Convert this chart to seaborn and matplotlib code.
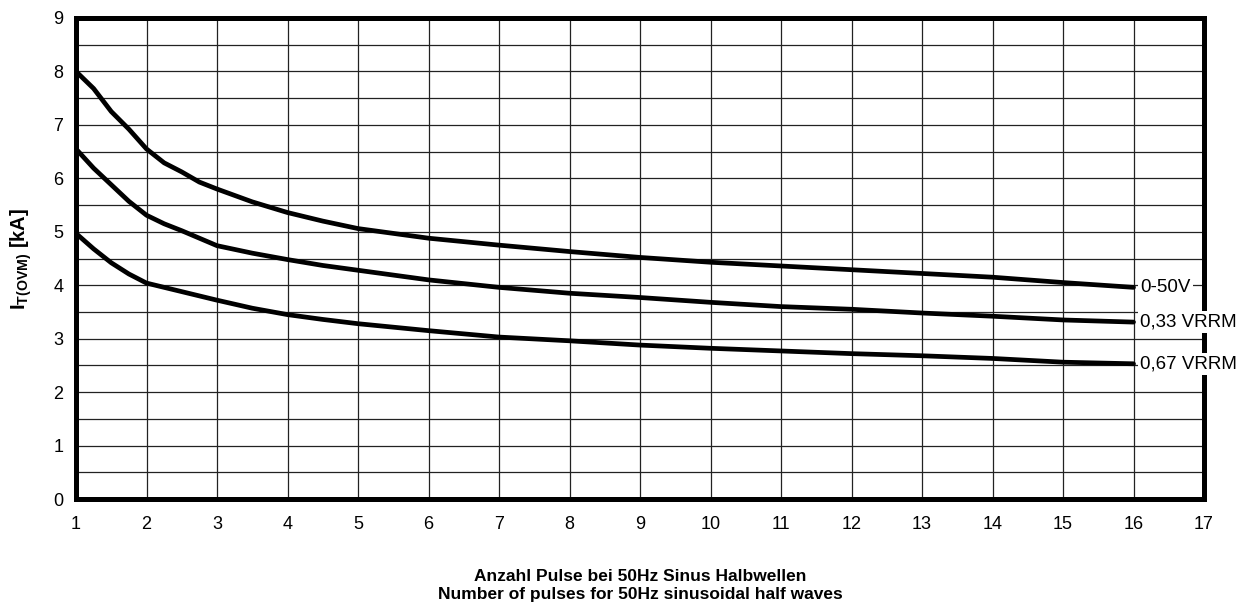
import numpy as np
import pandas as pd
import matplotlib
matplotlib.use("Agg")
import matplotlib.pyplot as plt
import seaborn as sns

# ---- data ----
pulses = [1, 1.25, 1.5, 1.75, 2, 2.25, 2.5, 2.75, 3, 3.5, 4, 4.5, 5, 6, 7, 8, 9, 10, 11, 12, 13, 14, 15, 16]
i_0_50v = [8.0, 7.68, 7.25, 6.92, 6.55, 6.29, 6.12, 5.93, 5.80, 5.56, 5.36, 5.20, 5.06, 4.88, 4.75,
           4.63, 4.52, 4.43, 4.36, 4.29, 4.22, 4.15, 4.05, 3.96]
i_033 = [6.55, 6.19, 5.88, 5.57, 5.31, 5.15, 5.02, 4.88, 4.74, 4.60, 4.48, 4.37, 4.28, 4.10, 3.96,
         3.85, 3.77, 3.68, 3.60, 3.55, 3.48, 3.42, 3.35, 3.31]
i_067 = [4.97, 4.68, 4.42, 4.21, 4.04, 3.96, 3.88, 3.80, 3.72, 3.57, 3.45, 3.36, 3.28, 3.15, 3.03,
         2.96, 2.88, 2.82, 2.77, 2.72, 2.68, 2.63, 2.56, 2.53]
series_names = ["0-50V", "0,33 VRRM", "0,67 VRRM"]
x_ticks = list(range(1, 18))
y_ticks = list(range(0, 10))

df = pd.concat([
    pd.DataFrame({"x": pulses, "y": vals, "s": name})
    for name, vals in zip(series_names, [i_0_50v, i_033, i_067])
], ignore_index=True)

sns.set_style("white")
plt.rcParams["font.family"] = ["Liberation Sans", "DejaVu Sans"]
plt.rcParams["mathtext.fontset"] = "custom"
plt.rcParams["mathtext.rm"] = "Liberation Sans"
plt.rcParams["mathtext.bf"] = "Liberation Sans:bold"
plt.rcParams["text.color"] = "black"
plt.rcParams["axes.labelcolor"] = "black"
plt.rcParams["xtick.color"] = "black"
plt.rcParams["ytick.color"] = "black"

fig = plt.figure(figsize=(12.59, 6.02), dpi=100)
ax = fig.add_axes([76 / 1259, 1 - 499 / 602, (1204 - 76) / 1259, (499 - 18) / 602])

sns.lineplot(data=df, x="x", y="y", hue="s", palette=["black"] * 3, legend=False,
             linewidth=3.4, ax=ax, zorder=4, sort=False)

ax.set_xlim(1, 17)
ax.set_ylim(0, 9)
ax.set_xticks(x_ticks)
ax.set_yticks(y_ticks)
ax.set_yticks(np.arange(0.5, 9, 1.0), minor=True)
ax.grid(True, which="major", axis="both", color="#222222", linewidth=0.9)
ax.grid(True, which="minor", axis="y", color="#222222", linewidth=0.9)
ax.tick_params(axis="both", which="major", direction="out", length=3, width=1,
               labelsize=13, color="black", labelcolor="black", pad=6)
ax.tick_params(axis="y", which="minor", length=0)
ax.tick_params(axis="x", which="major", pad=9)

for sp in ax.spines.values():
    sp.set_visible(True)
    sp.set_color("black")
    sp.set_linewidth(3.6)
    sp.set_zorder(3)

# end labels
for name, vals in zip(series_names, [i_0_50v, i_033, i_067]):
    ax.annotate(name, xy=(pulses[-1], vals[-1]), xytext=(5, 0), textcoords="offset points",
                ha="left", va="center", fontsize=13.5, color="black", zorder=6,
                annotation_clip=False,
                bbox=dict(boxstyle="square,pad=0.12", fc="white", ec="none"))

ax.set_xlabel("Anzahl Pulse bei 50Hz Sinus Halbwellen\nNumber of pulses for 50Hz sinusoidal half waves",
              fontsize=12.5, fontweight="bold", labelpad=26, linespacing=1.25, color="black")
ax.set_ylabel(r"$\mathbf{I_{T(OVM)}}$ [kA]", fontsize=14.5, fontweight="bold", labelpad=14,
              color="black")

fig.savefig("out.png", dpi=100)
